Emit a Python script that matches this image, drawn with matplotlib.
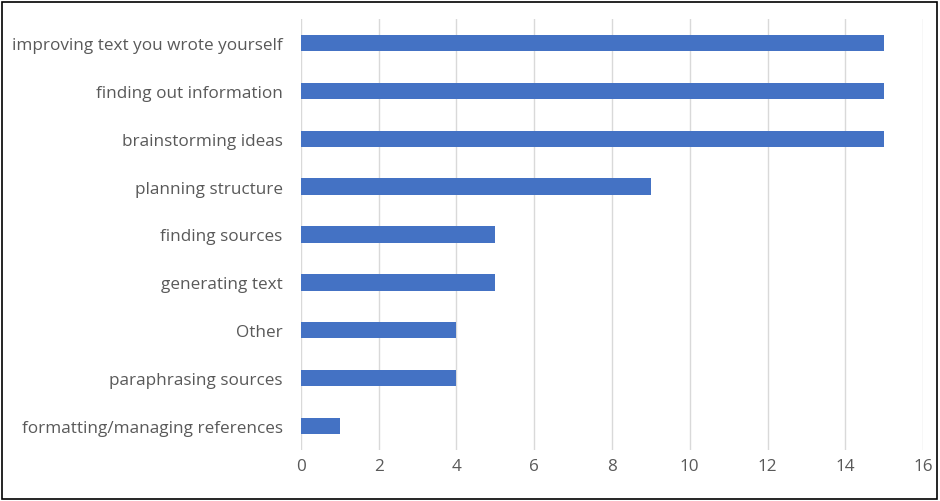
import matplotlib.pyplot as plt
from matplotlib.patches import Rectangle

categories = ['improving text you wrote yourself', 'finding out information',
              'brainstorming ideas', 'planning structure', 'finding sources',
              'generating text', 'Other', 'paraphrasing sources',
              'formatting/managing references']
counts = [15, 15, 15, 9, 5, 5, 4, 4, 1]
xticks = [0, 2, 4, 6, 8, 10, 12, 14, 16]

plt.rcParams['font.family'] = ['Open Sans', 'DejaVu Sans']

fig = plt.figure(figsize=(9.4, 5.02), dpi=100)
ax = fig.add_axes([0.320, 0.1016, 0.662, 0.8586])

ypos = list(range(len(categories)))[::-1]
ax.barh(ypos, counts, height=0.34, color='#4472C4', zorder=3)

ax.set_xlim(0, 16)
ax.set_ylim(-0.5, len(categories) - 0.5)
ax.set_xticks(xticks)
ax.set_yticks(ypos)
ax.set_yticklabels(categories)
ax.grid(axis='x', color='#D9D9D9', linewidth=1, zorder=0)
ax.tick_params(axis='both', length=0, labelsize=12.3, colors='#595959')
ax.tick_params(axis='y', pad=13)
ax.tick_params(axis='x', pad=6)
for s in ax.spines.values():
    s.set_visible(False)

fig.patches.append(Rectangle((0.002, 0.004), 0.995, 0.99, transform=fig.transFigure,
                             fill=False, edgecolor='black', linewidth=1.2))

plt.savefig('out.png', dpi=100)
